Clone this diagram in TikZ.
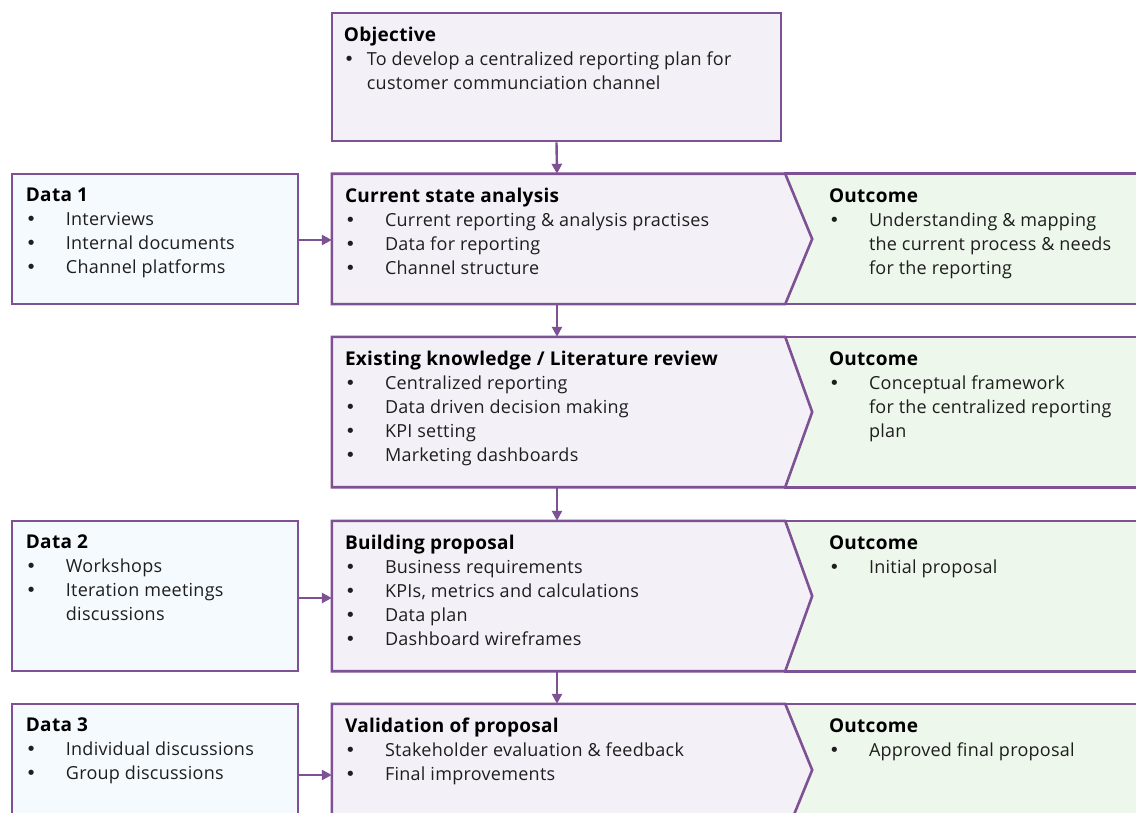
\documentclass[tikz,border=0pt]{standalone}
\usepackage{fontspec}
\setmainfont[LetterSpace=1.5]{Open Sans}
\newfontfamily\dotfont{DejaVu Sans}
\usetikzlibrary{arrows.meta}

\definecolor{edge}{HTML}{7D5194}
\definecolor{procfill}{HTML}{F4F0F7}
\definecolor{datafill}{HTML}{F5FAFE}
\definecolor{outfill}{HTML}{EEF7EC}
\definecolor{ink}{HTML}{1E1E1E}

% heading row and bullet for the text blocks
\newcommand\hd[1]{\multicolumn{2}{@{}l@{}}{\fontsize{19}{24}\selectfont\bfseries\color{black}#1}}
\newcommand\bl{{\dotfont\fontsize{18}{24}\selectfont •}}
\newenvironment{blk}[1]{\begin{tabular}{@{}p{#1}@{}l@{}}}{\end{tabular}}

\begin{document}
\begin{tikzpicture}[x=1pt,y=-1pt,
  box/.style={draw=edge, line width=2.6pt, rectangle, inner sep=0pt},
  databox/.style={box, fill=datafill},
  objbox/.style={box, fill=procfill},
  frame/.style={rectangle, inner sep=0pt},
  procshape/.style={draw=edge, line width=2.6pt, fill=procfill, line join=miter},
  outshape/.style={draw=edge, line width=2.6pt, fill=outfill},
  txt/.style={anchor=north west, inner sep=0pt, text=ink, font=\fontsize{18}{24}\selectfont},
  flow/.style={draw=edge, line width=2.4pt, -{Triangle[length=10pt,width=10pt]}}
]
\useasboundingbox (0,0) rectangle (1136,813);
\clip (0,0) rectangle (1136,813);

% ---------- objective ----------
\node[objbox, minimum width=449pt, minimum height=128pt] (obj) at (556.5,77) {};

% ---------- process frames (left part of each row) ----------
\node[frame, minimum width=450pt, minimum height=130pt] (cur) at (557,239) {};
\node[frame, minimum width=450pt, minimum height=150pt] (lit) at (557,412) {};
\node[frame, minimum width=450pt, minimum height=150pt] (bld) at (557,596) {};
\node[frame, minimum width=450pt, minimum height=132pt] (val) at (557,770) {};

% ---------- outcome frames ----------
\node[frame, minimum width=370pt, minimum height=130pt] (o1) at (970,239) {};
\node[frame, minimum width=370pt, minimum height=150pt] (o2) at (970,412) {};
\node[frame, minimum width=370pt, minimum height=150pt] (o3) at (970,596) {};
\node[frame, minimum width=370pt, minimum height=132pt] (o4) at (970,770) {};

\foreach \o in {o1,o2,o3,o4}
  \draw[outshape] (\o.north west) rectangle (\o.south east);

\foreach \p in {cur,lit,bld,val}
  \draw[procshape] (\p.north west) -- ([xshift=3pt]\p.north east)
     -- ([xshift=30pt]\p.east) -- ([xshift=3pt]\p.south east)
     -- (\p.south west) -- cycle;

% ---------- data boxes ----------
\node[databox, minimum width=286pt, minimum height=130pt] (d1) at (155,239) {};
\node[databox, minimum width=286pt, minimum height=150pt] (d2) at (155,596) {};
\node[databox, minimum width=286pt, minimum height=132pt] (d3) at (155,770) {};

% ---------- connectors ----------
\draw[flow] (obj.south) -- (cur.north);
\draw[flow] (cur.south) -- (lit.north);
\draw[flow] (lit.south) -- (bld.north);
\draw[flow] (bld.south) -- (val.north);
\draw[flow] ([yshift=-1pt]d1.east) -- ([yshift=-1pt]d1.east -| cur.west);
\draw[flow] ([yshift=-2pt]d2.east) -- ([yshift=-2pt]d2.east -| bld.west);
\draw[flow] ([yshift=-5pt]d3.east) -- ([yshift=-5pt]d3.east -| val.west);

% ---------- texts ----------
\node[txt] (objT) at ([xshift=13pt,yshift=-12.5pt]obj.north west) {\begin{blk}{23pt}
\hd{Objective}\\
\bl & To develop a centralized reporting plan for\\
& customer communciation channel
\end{blk}};

\node[txt] (curT) at ([xshift=13pt,yshift=-11.5pt]cur.north west) {\begin{blk}{40pt}
\hd{Current state analysis}\\
\bl & Current reporting \& analysis practises\\
\bl & Data for reporting\\
\bl & Channel structure
\end{blk}};

\node[txt] (litT) at ([xshift=13pt,yshift=-11.5pt]lit.north west) {\begin{blk}{40pt}
\hd{Existing knowledge / Literature review}\\
\bl & Centralized reporting\\
\bl & Data driven decision making\\
\bl & KPI setting\\
\bl & Marketing dashboards
\end{blk}};

\node[txt] (bldT) at ([xshift=13pt,yshift=-11.5pt]bld.north west) {\begin{blk}{40pt}
\hd{Building proposal}\\
\bl & Business requirements\\
\bl & KPIs, metrics and calculations\\
\bl & Data plan\\
\bl & Dashboard wireframes
\end{blk}};

\node[txt] (valT) at ([xshift=13pt,yshift=-11.5pt]val.north west) {\begin{blk}{40pt}
\hd{Validation of proposal}\\
\bl & Stakeholder evaluation \& feedback\\
\bl & Final improvements
\end{blk}};

\node[txt] (d1T) at ([xshift=15pt,yshift=-11.5pt]d1.north west) {\begin{blk}{40pt}
\hd{Data 1}\\
\bl & Interviews\\
\bl & Internal documents\\
\bl & Channel platforms
\end{blk}};

\node[txt] (d2T) at ([xshift=15pt,yshift=-11.5pt]d2.north west) {\begin{blk}{40pt}
\hd{Data 2}\\
\bl & Workshops\\
\bl & Iteration meetings\\
& discussions
\end{blk}};

\node[txt] (d3T) at ([xshift=15pt,yshift=-11.5pt]d3.north west) {\begin{blk}{40pt}
\hd{Data 3}\\
\bl & Individual discussions\\
\bl & Group discussions
\end{blk}};

\node[txt] (o1T) at ([xshift=44pt,yshift=-11.5pt]o1.north west) {\begin{blk}{40pt}
\hd{Outcome}\\
\bl & Understanding \& mapping\\
& the current process \& needs\\
& for the reporting
\end{blk}};

\node[txt] (o2T) at ([xshift=44pt,yshift=-11.5pt]o2.north west) {\begin{blk}{40pt}
\hd{Outcome}\\
\bl & Conceptual framework\\
& for the centralized reporting\\
& plan
\end{blk}};

\node[txt] (o3T) at ([xshift=44pt,yshift=-11.5pt]o3.north west) {\begin{blk}{40pt}
\hd{Outcome}\\
\bl & Initial proposal
\end{blk}};

\node[txt] (o4T) at ([xshift=44pt,yshift=-11.5pt]o4.north west) {\begin{blk}{40pt}
\hd{Outcome}\\
\bl & Approved final proposal
\end{blk}};
\end{tikzpicture}
\end{document}
